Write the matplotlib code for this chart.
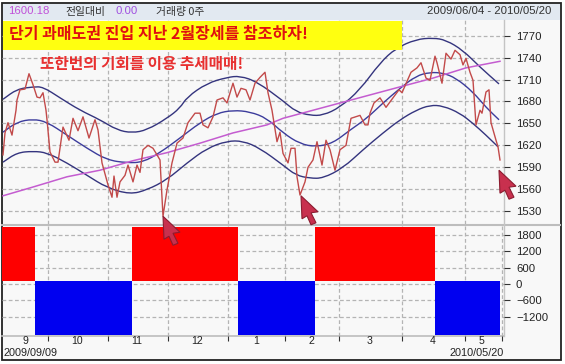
import numpy as np
import matplotlib
matplotlib.use("Agg")
import matplotlib.pyplot as plt
from matplotlib.patches import Rectangle, Polygon, PathPatch
from matplotlib.path import Path

plt.rcParams['font.family'] = ['Liberation Sans', 'Noto Sans CJK KR', 'DejaVu Sans']

# --- Data (x = chart column) ---
price_x = [3, 5, 8, 12, 16, 17, 20, 25, 29, 33, 37, 40, 43, 46, 47, 50, 55, 58, 63, 69, 73, 78, 83, 89, 95, 98,
           102, 108, 112, 114, 117, 120, 125, 128, 133, 137, 140, 143, 148, 153, 157, 160, 163, 167, 172, 177,
           183, 188, 195, 200, 203, 208, 213, 217, 223, 227, 233, 237, 241, 246, 250, 255, 260, 265, 268, 272,
           277, 280, 283, 288, 291, 295, 297, 300, 305, 308, 313, 317, 322, 326, 330, 335, 340, 346, 351, 360,
           365, 368, 370, 374, 380, 386, 393, 399, 402, 411, 417, 421, 426, 430, 435, 437, 442, 446, 451, 455,
           460, 463, 466, 470, 473, 475, 476, 480, 482, 486, 489, 491, 496, 498, 500]
price = [1607, 1637, 1651, 1634, 1668, 1682, 1696, 1697, 1718, 1703, 1686, 1685, 1692, 1668, 1655, 1611, 1597,
         1597, 1645, 1627, 1657, 1640, 1659, 1630, 1655, 1641, 1596, 1566, 1549, 1578, 1549, 1570, 1579, 1593,
         1570, 1593, 1583, 1614, 1620, 1616, 1607, 1600, 1523, 1559, 1596, 1623, 1630, 1651, 1664, 1664, 1648,
         1644, 1659, 1682, 1685, 1678, 1705, 1686, 1698, 1696, 1682, 1705, 1713, 1720, 1692, 1668, 1625, 1638,
         1609, 1596, 1616, 1616, 1577, 1552, 1570, 1590, 1600, 1625, 1593, 1627, 1614, 1586, 1614, 1620, 1657,
         1661, 1648, 1648, 1664, 1678, 1685, 1672, 1685, 1696, 1692, 1720, 1726, 1733, 1712, 1709, 1742, 1733,
         1705, 1746, 1738, 1750, 1744, 1730, 1739, 1720, 1709, 1668, 1648, 1668, 1664, 1693, 1696, 1651, 1627,
         1618, 1600]

upper_x = [3, 17, 33, 43, 60, 80, 100, 117, 132, 147, 167, 180, 187, 207, 227, 240, 257, 283, 296, 310, 323, 340,
           360, 380, 396, 416, 433, 446, 463, 480, 499]
upper = [1683, 1697, 1700, 1700, 1685, 1668, 1655, 1641, 1637, 1641, 1657, 1671, 1686, 1705, 1713, 1715, 1707,
         1681, 1666, 1661, 1661, 1672, 1696, 1733, 1753, 1765, 1767, 1764, 1750, 1727, 1704]

middle_x = [3, 17, 33, 47, 67, 87, 107, 127, 143, 160, 180, 200, 217, 233, 250, 267, 283, 300, 316, 333, 350, 366,
            383, 400, 416, 430, 443, 456, 473, 486, 499]
middle = [1638, 1652, 1656, 1652, 1634, 1616, 1600, 1596, 1597, 1610, 1630, 1651, 1664, 1668, 1666, 1657, 1637,
          1622, 1618, 1623, 1641, 1656, 1678, 1698, 1715, 1720, 1719, 1712, 1693, 1672, 1655]

lower_x = [3, 17, 33, 47, 67, 87, 107, 130, 147, 167, 187, 207, 227, 243, 260, 283, 296, 310, 323, 343, 363, 383,
           400, 416, 430, 443, 460, 473, 486, 498]
lower = [1597, 1610, 1612, 1610, 1596, 1579, 1562, 1553, 1559, 1573, 1596, 1616, 1626, 1626, 1616, 1593, 1579,
         1575, 1575, 1589, 1614, 1637, 1655, 1668, 1675, 1674, 1664, 1650, 1634, 1618]

trend_x = [3, 33, 67, 100, 133, 167, 200, 233, 267, 283, 400, 433, 466, 500]
trend = [1551, 1563, 1577, 1586, 1599, 1610, 1623, 1637, 1648, 1657, 1700, 1712, 1726, 1735]

bar_left = [2, 35, 132, 238, 315, 435]
bar_right = [35, 132, 238, 315, 435, 500]
bar_value = [2090, -1860, 2090, -1860, 2090, -1860]
bar_base = 100

month_edges = [48, 108, 168, 228, 285, 339, 402, 465, 502]
month_mids = [25, 77, 137, 197, 256, 311, 370, 433, 482]
month_labels = ['9', '10', '11', '12', '1', '2', '3', '4', '5']
price_ticks = [1530, 1560, 1590, 1620, 1650, 1680, 1710, 1740, 1770]
osc_ticks = [-1200, -600, 0, 600, 1200, 1800]

# cursor tips on the chart: (column, price)
cursor_tips = [(163, 1523), (301, 1551), (499, 1586)]

W, H = 565, 364
fig = plt.figure(figsize=(W / 100, H / 100), dpi=100, facecolor='white')


def px_axes(x0, y0, x1, y1, **kw):
    return fig.add_axes([x0 / W, 1 - y1 / H, (x1 - x0) / W, (y1 - y0) / H], **kw)


def smooth_line(ax, xs, ys, **kw):
    # quadratic curve through the midpoints, the read points act as control points
    pts = np.column_stack([xs, ys], ).astype(float)
    mids = (pts[:-1] + pts[1:]) / 2
    verts = [pts[0], mids[0]]
    codes = [Path.MOVETO, Path.LINETO]
    for ctrl, mid in zip(pts[1:-1], mids[1:]):
        verts += [ctrl, mid]
        codes += [Path.CURVE3, Path.CURVE3]
    verts.append(pts[-1])
    codes.append(Path.LINETO)
    ax.add_patch(PathPatch(Path(verts, codes), fc='none', **kw))


# background / frame, in pixel coords
bg = px_axes(0, 0, W, H, zorder=0)
bg.set_xlim(0, W)
bg.set_ylim(H, 0)
bg.axis('off')
bg.add_patch(Rectangle((1.5, 3), 559.5, 357, fc='#f8f8f8', ec='#222222', lw=1.3))
bg.add_patch(Rectangle((2.5, 4), 557.5, 16, fc='#e2e9f1', ec='none'))
bg.plot([2, 560], [224.5, 224.5], color='#bdbdbd', lw=1.5)
bg.plot([2, 503.5], [336, 336], color='#bdbdbd', lw=1.2)
bg.plot([503.5, 503.5], [20, 336], color='#c4c4c4', lw=1)

grid_style = dict(color='#b4b4b4', ls=(0, (3, 2)), lw=0.9)

# --- price panel ---
ax1 = px_axes(2, 20, 503.5, 224, zorder=1)
ax1.patch.set_alpha(0)
ax1.set_xlim(2, 503.5)
# 1770 at pixel 35.7, 1530 at pixel 211.2
ax1.set_ylim(1770 - (224 - 35.7) * 1.368, 1770 + (35.7 - 20) * 1.368)
smooth_line(ax1, upper_x, upper, ec='#34347e', lw=1.0)
smooth_line(ax1, middle_x, middle, ec='#3c3c9c', lw=1.0)
smooth_line(ax1, lower_x, lower, ec='#34347e', lw=1.0)
ax1.plot(trend_x, trend, color='#c45cd0', lw=1.1)
ax1.plot(price_x, price, color='#c24a4a', lw=1.0)
ax1.set_xticks(month_edges[:-1])
ax1.set_yticks(price_ticks)
ax1.grid(True, **grid_style)
ax1.set_axisbelow(True)
ax1.yaxis.tick_right()
ax1.tick_params(axis='x', length=0, labelbottom=False)
ax1.tick_params(axis='y', length=4, width=0.8, color='#333333', pad=5, labelsize=8.2, labelcolor='#222222')
ax1.spines[:].set_visible(False)

# --- oscillator panel ---
ax2 = px_axes(2, 226, 503.5, 336, zorder=1)
ax2.patch.set_alpha(0)
ax2.set_xlim(2, 503.5)
ax2.set_ylim(-1900, 2120)
for left, right, val in zip(bar_left, bar_right, bar_value):
    ax2.bar(left, val - bar_base, width=right - left, bottom=bar_base, align='edge',
            color='#fe0000' if val > 0 else '#0000f0', zorder=3)
ax2.set_xticks(month_edges)
ax2.set_xticks(month_mids, labels=month_labels, minor=True)
ax2.set_yticks(osc_ticks, labels=[str(t).replace('-', '\u2212') for t in osc_ticks])
ax2.grid(True, which='major', **grid_style)
ax2.set_axisbelow(True)
ax2.yaxis.tick_right()
ax2.tick_params(axis='x', which='major', length=3.5, width=0.8, color='#333333', labelbottom=False)
ax2.tick_params(axis='x', which='minor', length=0, pad=0, labelsize=7.6, labelcolor='#222222')
ax2.tick_params(axis='y', length=4, width=0.8, color='#333333', pad=5, labelsize=8.2, labelcolor='#222222')
ax2.spines[:].set_visible(False)

# --- overlay: header, notes, cursors ---
top = px_axes(0, 0, W, H, zorder=5)
top.set_xlim(0, W)
top.set_ylim(H, 0)
top.axis('off')
top.patch.set_alpha(0)

top.add_patch(Rectangle((2.5, 21), 399.5, 29, fc='#ffff10', ec='none'))
kr = ['Noto Sans CJK KR', 'DejaVu Sans']
top.text(9, 33.5, '단기 과매도권 진입 지난 2월장세를 참조하자!', color='#e01010', fontsize=11.5,
         fontweight='bold', family=kr, va='center', ha='left')
top.text(40, 64, '또한번의 기회를 이용 추세매매!', color='#e83030', fontsize=11.3,
         fontweight='bold', family=kr, va='center', ha='left')

top.text(8, 11.5, '1600.18', color='#c050d8', fontsize=8.2, va='center')
top.text(65, 11.5, '전일대비', color='#333333', fontsize=7.8, family=kr, va='center')
top.text(116, 11.5, '0.00', color='#a050e0', fontsize=8.2, va='center')
top.text(156, 11.5, '거래량 0주', color='#333333', fontsize=7.8, family=kr, va='center')
top.text(551, 11.5, '2009/06/04 - 2010/05/20', color='#333333', fontsize=8.2, va='center', ha='right')
top.text(3, 353.5, '2009/09/09', color='#222222', fontsize=7.8, va='center')
top.text(504, 353.5, '2010/05/20', color='#222222', fontsize=7.8, va='center', ha='right')

# arrow cursor outline, offsets from the tip in pixels
cursor_shape = np.array([(0, 0), (17, 16), (10, 17), (15, 27), (10, 29), (6, 20), (1, 23)])
for tip_x, tip_val in cursor_tips:
    tx, ty = top.transData.inverted().transform(ax1.transData.transform((tip_x, tip_val)))
    top.add_patch(Polygon(cursor_shape + [tx, ty], closed=True, fc='#c8304e', ec='#8c1c30', lw=0.8))

fig.savefig('out.png', dpi=100)
